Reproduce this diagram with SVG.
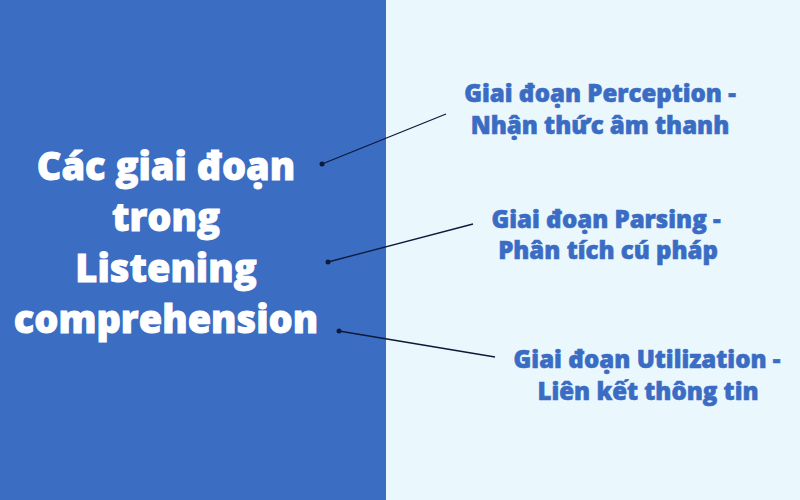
<svg xmlns="http://www.w3.org/2000/svg" width="800" height="500" viewBox="0 0 800 500">
<style>
.title{font-family:"Open Sans","Liberation Sans",sans-serif;font-weight:800;font-size:38px;fill:#ffffff;stroke:#ffffff;stroke-width:0.9;text-anchor:middle}
.lbl{font-family:"Open Sans","Liberation Sans",sans-serif;font-weight:800;font-size:24px;fill:#3a6cc4;stroke:#3a6cc4;stroke-width:0.6;text-anchor:middle}
.conn{stroke:#0d1a3a;stroke-width:1.3;fill:none}
.dot{fill:#0d1a3a}
</style>
<rect x="0" y="0" width="800" height="500" fill="#eaf8fd"/>
<rect x="0" y="0" width="386" height="500" fill="#3b6dc3"/>
<g id="main">
<text class="title" x="166" y="180">Các giai đoạn</text>
<text class="title" x="166" y="231">trong</text>
<text class="title" x="166" y="282">Listening</text>
<text class="title" x="166" y="333">comprehension</text>
</g>
<g id="perception">
<text class="lbl" x="600" y="102">Giai đoạn Perception -</text>
<text class="lbl" x="600" y="134">Nhận thức âm thanh</text>
</g>
<g id="parsing">
<text class="lbl" x="606" y="228">Giai đoạn Parsing -</text>
<text class="lbl" x="608" y="259">Phân tích cú pháp</text>
</g>
<g id="utilization">
<text class="lbl" x="647" y="368">Giai đoạn Utilization -</text>
<text class="lbl" x="648" y="400">Liên kết thông tin</text>
</g>
<g id="connectors">
<line class="conn" x1="322" y1="164" x2="446" y2="114"/>
<circle class="dot" cx="322" cy="164" r="2.5"/>
<line class="conn" x1="328" y1="262" x2="473" y2="224"/>
<circle class="dot" cx="328" cy="262" r="2.5"/>
<line class="conn" x1="339" y1="331" x2="495" y2="357"/>
<circle class="dot" cx="339" cy="331" r="2.5"/>
</g>
</svg>
